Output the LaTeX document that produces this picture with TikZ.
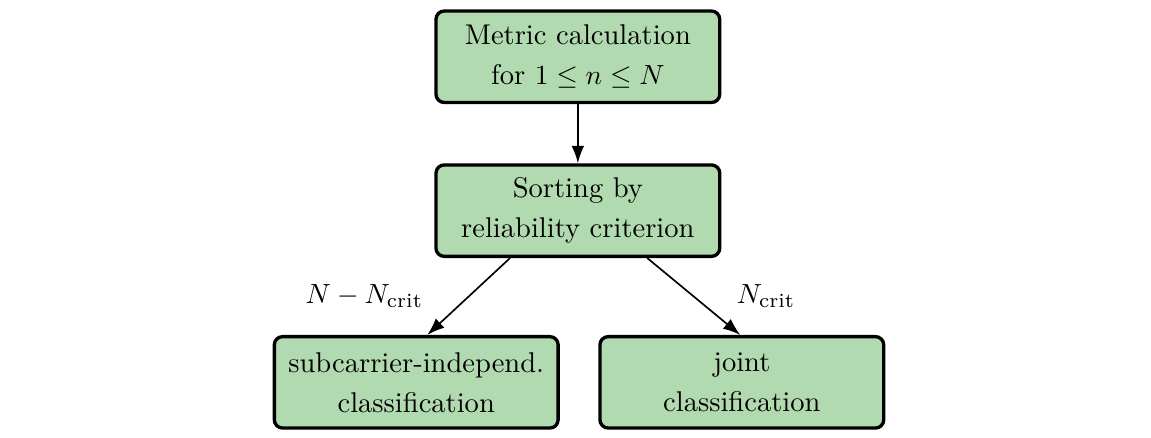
\documentclass[tikz,border=0pt]{standalone}
\usepackage{amsmath}
\usepackage{amsfonts}
\usepackage{tikz}
\usetikzlibrary{arrows.meta, positioning}
\definecolor{boxgreen}{RGB}{178,218,176}

\begin{document}
\begin{tikzpicture}[box/.style = {draw, very thick, rounded corners = 3pt, fill = boxgreen, align = center, minimum width = 3.6cm, minimum height = 1.16cm, inner sep = 2pt, font = \fontsize{10.3pt}{14.4pt}\selectfont},
 every edge/.style = {draw, semithick, -{Latex[length = 2.2mm, width = 1.6mm]}},
 lbl/.style = {font = \fontsize{10.4pt}{12pt}\selectfont}]
\useasboundingbox (-7.33,0.72) rectangle (7.27,-4.83);
\node[box] (m1) at (0,0) {Metric calculation\\ for $1 \leq n \leq N$};
\node[box, below = 0.75cm of m1] (s1) {Sorting by\\ reliability criterion};
\node[box] (c1) at (-2.05,-4.13) {subcarrier-independ.\\ classification};
\node[box] (c2) at (2.08,-4.13) {joint\\ classification};
\draw (m1) edge (s1);
\draw ([xshift=-0.86cm]s1.south) edge node[lbl, midway, left = 0.45cm] {$N - N_{\text{crit}}$} ([xshift=0.14cm]c1.north);
\draw ([xshift=0.88cm]s1.south) edge node[lbl, midway, right = 0.42cm] {$N_{\text{crit}}$} ([xshift=-0.02cm]c2.north);
\end{tikzpicture}
\end{document}
